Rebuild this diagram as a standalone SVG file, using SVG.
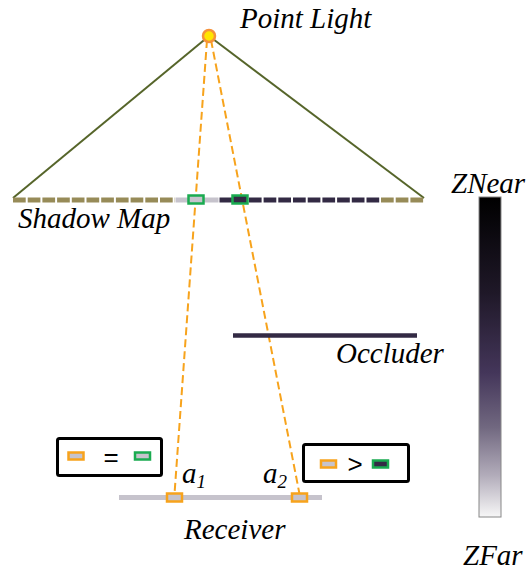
<svg xmlns="http://www.w3.org/2000/svg" width="528" height="574" viewBox="0 0 528 574">
<style>
.lbl{font-family:"Liberation Serif","Times New Roman","DejaVu Serif",serif;font-style:italic;font-size:29px;fill:#000}
.olive{stroke:#978b58;stroke-width:5;stroke-dasharray:12.7 2}
.dark{stroke:#332a44;stroke-width:5;stroke-dasharray:12.7 2}
.ray{stroke:#f7a31c;stroke-width:2;stroke-dasharray:8 4;fill:none}
.frus{stroke:#56652a;stroke-width:2}
.gbox{stroke:#1aab50;stroke-width:2.5}
.obox{stroke:#f7a31c;stroke-width:2.5;fill:#c6c3cc}
.legend{fill:#fff;stroke:#000;stroke-width:3}
.op{font-family:"Liberation Sans",Arial,sans-serif;font-size:26px;text-anchor:middle;fill:#000}
</style>
<defs>
<linearGradient id="zg" x1="0" y1="0" x2="0" y2="1">
<stop offset="0" stop-color="#000000"/>
<stop offset="0.3" stop-color="#1f1828"/>
<stop offset="0.55" stop-color="#44365a"/>
<stop offset="0.72" stop-color="#716880"/>
<stop offset="0.87" stop-color="#b2acba"/>
<stop offset="1" stop-color="#f7f7f7"/>
</linearGradient>
</defs>
<g id="connectors">
<line class="frus" x1="209" y1="36" x2="13" y2="198"/>
<line class="frus" x1="209" y1="36" x2="424" y2="198"/>
<line class="ray" x1="207" y1="40" x2="174.5" y2="494"/>
<line class="ray" x1="211" y1="40" x2="299.5" y2="494"/>
</g>
<g id="light">
<circle cx="209" cy="36" r="6" fill="#ffe500" stroke="#f5923a" stroke-width="2.5"/>
<text class="lbl" x="240" y="28">Point Light</text>
</g>
<g id="shadow-map">
<line class="olive" x1="13" y1="200" x2="175" y2="200"/>
<rect x="175.5" y="197.5" width="43" height="5" fill="#c6c3cc"/>
<line class="dark" x1="219.5" y1="200" x2="380" y2="200"/>
<line class="olive" x1="381" y1="200" x2="424" y2="200"/>
<rect class="gbox" x="188.5" y="195.5" width="15" height="8" fill="#c6c3cc"/>
<rect class="gbox" x="232.5" y="195.5" width="15" height="8" fill="#332a44"/>
<text class="lbl" x="18" y="228">Shadow Map</text>
</g>
<g id="occluder">
<line x1="233" y1="335.5" x2="417" y2="335.5" stroke="#332a44" stroke-width="4.5"/>
<text class="lbl" x="336" y="363">Occluder</text>
</g>
<g id="receiver">
<line x1="119" y1="497.5" x2="322" y2="497.5" stroke="#c6c3cc" stroke-width="5"/>
<rect class="obox" x="167" y="493.5" width="15" height="8"/>
<rect class="obox" x="292" y="493.5" width="15" height="8"/>
<text class="lbl" x="182" y="483">a<tspan font-size="19" dy="5">1</tspan></text>
<text class="lbl" x="263" y="483">a<tspan font-size="19" dy="5">2</tspan></text>
<text class="lbl" x="184" y="539">Receiver</text>
</g>
<g id="legend-equal">
<rect class="legend" x="57.5" y="438.5" width="104" height="37" rx="2"/>
<rect class="obox" x="68.5" y="452.5" width="15" height="7"/>
<text class="op" x="111" y="466">=</text>
<rect class="gbox" x="135" y="452.5" width="15" height="7" fill="#c6c3cc"/>
</g>
<g id="legend-greater">
<rect class="legend" x="303.5" y="444.5" width="105" height="37" rx="2"/>
<rect class="obox" x="321" y="460.5" width="15" height="7"/>
<text class="op" x="355" y="473">&gt;</text>
<rect class="gbox" x="373" y="460.5" width="15" height="7" fill="#332a44"/>
</g>
<g id="depth-scale">
<rect x="479" y="197" width="22" height="320" fill="url(#zg)" stroke="#888" stroke-width="1"/>
<text class="lbl" x="451" y="193">ZNear</text>
<text class="lbl" x="463" y="565">ZFar</text>
</g>
</svg>
